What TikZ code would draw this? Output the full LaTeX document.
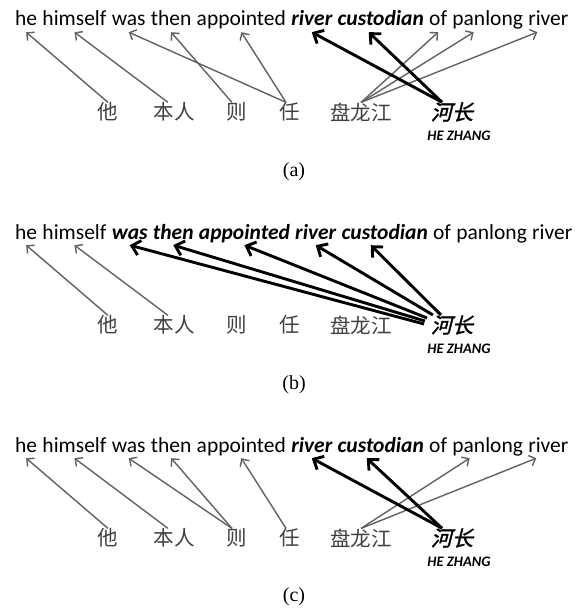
\documentclass[tikz,border=0pt]{standalone}
\usepackage{fontspec}
\setmainfont{Carlito}
\newfontfamily\cjk{Noto Sans CJK SC}
\newfontfamily\cjkkey[FakeSlant=0.25,FakeBold=1.5]{Noto Sans CJK SC}
\newfontfamily\capfont{Liberation Serif}
\usetikzlibrary{positioning,arrows.meta}

\tikzset{
  word/.style={inner sep=0pt, text depth=6pt, font=\fontsize{21.5}{24}\selectfont},
  zh/.style={inner sep=0pt, text=black!75, font=\cjk\fontsize{20.5}{24}\selectfont},
  zhkey/.style={inner sep=0pt, font=\cjkkey\fontsize{21}{24}\selectfont},
  gloss/.style={inner sep=0pt, font=\bfseries\itshape\fontsize{14.5}{16}\selectfont},
  caption/.style={inner sep=0pt, font=\capfont\fontsize{20}{22}\selectfont},
  weak/.style={draw=black!62, line width=1.4pt, -{Straight Barb[length=5.5pt,width=11pt]}},
  strong/.style={draw=black, line width=2.9pt, -{Straight Barb[length=8pt,width=15pt]}},
}

% english sentence: prefix, baseline y, word/bold list
\newcommand\sentence[3]{%
  \foreach \w/\b [count=\i, remember=\i as \j (initially 0)] in {#3}{
    \ifnum\i=1
      \node[word, anchor=base west] (#1w1) at (15,#2) {\ifnum\b=1 \bfseries\itshape\fi\w};
    \else
      \node[word, base right=4.9pt of #1w\j] (#1w\i) {\ifnum\b=1 \bfseries\itshape\fi\w};
    \fi
  }
}

% chinese row: prefix, y
\newcommand\zhrow[2]{%
  \node[zh] (#1ta) at (108,#2) {他};
  \node[zh] (#1benren) at (174,#2) {本人};
  \node[zh] (#1ze) at (237,#2) {则};
  \node[zh] (#1ren) at (290,#2) {任};
  \node[zh] (#1panlong) at (361,#2) {盘龙江};
  \node[zhkey] (#1hezhang) at (452,#2) {河长};
  \node[gloss] (#1gloss) at (459,#2-24) {HE ZHANG};
}

\begin{document}
\begin{tikzpicture}[x=1pt, y=1pt]
  \useasboundingbox (0,0) rectangle (579,-610);

  % (a)
  \sentence{a-}{-26}{he/0,himself/0,was/0,then/0,appointed/0,river/1,custodian/1,of/0,panlong/0,river/0}
  \zhrow{a-}{-112}
  \node[caption] (a-cap) at (294,-172) {(a)};
  \draw[weak] (a-ta.north) -- (a-w1.south);
  \draw[weak] ([xshift=-6pt]a-benren.north) -- (a-w2.south);
  \draw[weak] ([xshift=-5pt]a-ze.north) -- (a-w4.south);
  \draw[weak] ([xshift=-4pt]a-ren.north) -- (a-w3.south);
  \draw[weak] ([xshift=-4pt]a-ren.north) -- (a-w5.south);
  \draw[weak] (a-panlong.north) -- (a-w8.south);
  \draw[weak] (a-panlong.north) -- ([xshift=-14pt]a-w9.south);
  \draw[weak] (a-panlong.north) -- ([xshift=-11pt]a-w10.south);
  \draw[strong] ([xshift=-10pt]a-hezhang.north) -- (a-w6.south);
  \draw[strong] ([xshift=-10pt]a-hezhang.north) -- ([xshift=-12pt]a-w7.south);

  % (b)
  \sentence{b-}{-239}{he/0,himself/0,was/1,then/1,appointed/1,river/1,custodian/1,of/0,panlong/0,river/0}
  \zhrow{b-}{-325}
  \node[caption] (b-cap) at (294,-385) {(b)};
  \draw[weak] (b-ta.north) -- (b-w1.south);
  \draw[weak] ([xshift=-6pt]b-benren.north) -- (b-w2.south);
  \draw[strong] ([shift={(-28,1)}]b-hezhang.center) -- (b-w3.south);
  \draw[strong] ([shift={(-27,4)}]b-hezhang.center) -- (b-w4.south);
  \draw[strong] ([shift={(-25,7)}]b-hezhang.center) -- (b-w5.south);
  \draw[strong] ([shift={(-19,10)}]b-hezhang.center) -- (b-w6.south);
  \draw[strong] ([shift={(-11,10)}]b-hezhang.center) -- ([xshift=-14pt]b-w7.south);

  % (c)
  \sentence{c-}{-452}{he/0,himself/0,was/0,then/0,appointed/0,river/1,custodian/1,of/0,panlong/0,river/0}
  \zhrow{c-}{-538}
  \node[caption] (c-cap) at (294,-597) {(c)};
  \draw[weak] (c-ta.north) -- (c-w1.south);
  \draw[weak] ([xshift=-6pt]c-benren.north) -- (c-w2.south);
  \draw[weak] ([xshift=-5pt]c-ze.north) -- (c-w3.south);
  \draw[weak] ([xshift=-5pt]c-ze.north) -- (c-w4.south);
  \draw[weak] ([xshift=-4pt]c-ren.north) -- (c-w5.south);
  \draw[weak] (c-panlong.north) -- ([xshift=-18pt]c-w9.south);
  \draw[weak] (c-panlong.north) -- ([xshift=-12pt]c-w10.south);
  \draw[strong] ([xshift=-10pt]c-hezhang.north) -- (c-w6.south);
  \draw[strong] ([xshift=-10pt]c-hezhang.north) -- ([xshift=-14pt]c-w7.south);
\end{tikzpicture}
\end{document}
